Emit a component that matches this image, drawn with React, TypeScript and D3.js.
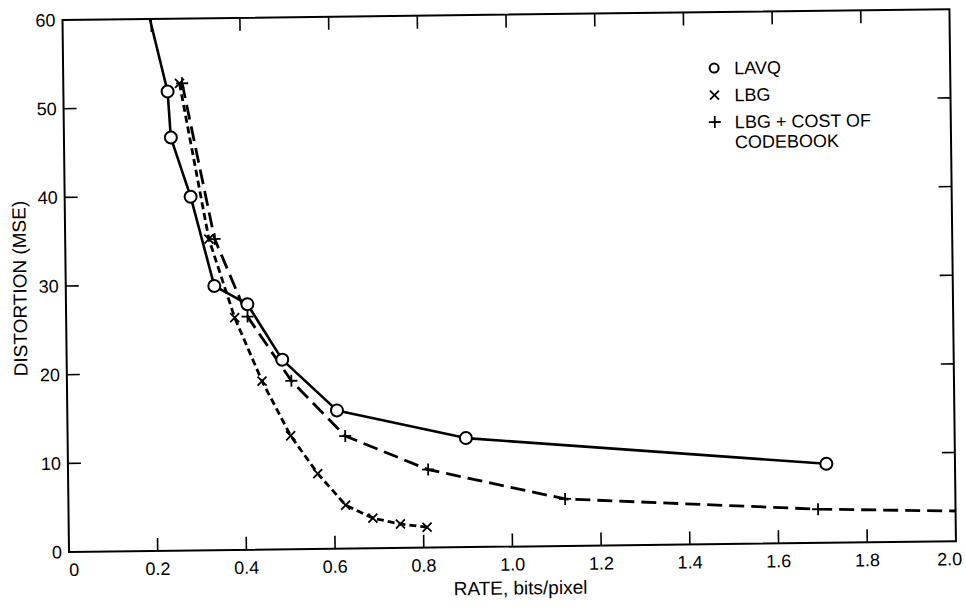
import React, { useEffect, useRef } from 'react';
import * as d3 from 'd3';

// axis ticks
const xTicks = [0, 0.2, 0.4, 0.6, 0.8, 1.0, 1.2, 1.4, 1.6, 1.8, 2.0];
const yTicks = [0, 10, 20, 30, 40, 50, 60];

// LAVQ (solid line, circles). first point = where the line leaves the top of the frame
const lavqRate = [0.197, 0.235, 0.241, 0.284, 0.335, 0.409, 0.486, 0.608, 0.898, 1.71];
const lavqMse = [60, 51.8, 46.6, 39.9, 29.8, 27.7, 21.4, 15.6, 12.3, 8.9];
const lavqMarked = [false, true, true, true, true, true, true, true, true, true];

// LBG (short dashes, x)
const lbgRate = [0.262, 0.324, 0.38, 0.44, 0.503, 0.563, 0.625, 0.686, 0.748, 0.808];
const lbgMse = [52.7, 35.1, 26.2, 19.0, 12.8, 8.5, 4.9, 3.4, 2.7, 2.3];

// LBG + cost of codebook (long dashes, +). last point = right edge of the frame
const costRate = [0.268, 0.337, 0.409, 0.506, 0.626, 0.812, 1.12, 1.69, 2.0];
const costMse = [52.7, 35.1, 26.3, 19.0, 12.7, 8.8, 5.3, 3.8, 3.4];
const costMarked = [true, true, true, true, true, true, true, true, false];

const legendLabels = [['LAVQ'], ['LBG'], ['LBG + COST OF', 'CODEBOOK']];

const FONT = '"Liberation Sans", Arial, Helvetica, sans-serif';

type Pt = { rate: number; mse: number; marked: boolean };

const zip = (r: number[], m: number[], flags?: boolean[]): Pt[] =>
  r.map((rate, i) => ({ rate, mse: m[i], marked: flags ? flags[i] : true }));

const App = () => {
  const svgRef = useRef<SVGSVGElement | null>(null);

  useEffect(() => {
    const width = 966;
    const height = 608;
    const left = 69;
    const right = 956;
    const top = 20;
    const bottom = 552;

    d3.select(svgRef.current).selectAll('*').remove();

    const svg = d3.select(svgRef.current)
      .attr('width', width)
      .attr('height', height);

    svg.append('rect').attr('width', width).attr('height', height).attr('fill', '#fff');

    // the scanned figure sits slightly tilted
    const g = svg.append('g').attr('transform', `rotate(-0.7, ${left}, ${bottom})`);

    const x = d3.scaleLinear().domain([0, 2]).range([left, right]);
    const y = d3.scaleLinear().domain([0, 60]).range([bottom, top]);

    g.append('clipPath').attr('id', 'plotClip')
      .append('rect')
      .attr('x', left).attr('y', top)
      .attr('width', right - left).attr('height', bottom - top);

    // frame
    g.append('rect')
      .attr('x', left).attr('y', top)
      .attr('width', right - left).attr('height', bottom - top)
      .attr('fill', 'none')
      .attr('stroke', '#000')
      .attr('stroke-width', 2);

    const tickLen = 13;

    // inward ticks on all four sides
    xTicks.slice(1, -1).forEach(t => {
      g.append('line')
        .attr('x1', x(t)).attr('x2', x(t))
        .attr('y1', bottom).attr('y2', bottom - tickLen)
        .attr('stroke', '#000').attr('stroke-width', 1.6);
      g.append('line')
        .attr('x1', x(t)).attr('x2', x(t))
        .attr('y1', top).attr('y2', top + tickLen)
        .attr('stroke', '#000').attr('stroke-width', 1.6);
    });
    yTicks.slice(1, -1).forEach(t => {
      g.append('line')
        .attr('x1', left).attr('x2', left + tickLen)
        .attr('y1', y(t)).attr('y2', y(t))
        .attr('stroke', '#000').attr('stroke-width', 1.6);
      g.append('line')
        .attr('x1', right).attr('x2', right - tickLen)
        .attr('y1', y(t)).attr('y2', y(t))
        .attr('stroke', '#000').attr('stroke-width', 1.6);
    });

    // tick labels (the last one is pulled in so it stays on the page)
    const lastX = xTicks[xTicks.length - 1];
    g.append('g')
      .selectAll('text')
      .data(xTicks)
      .enter()
      .append('text')
      .attr('x', d => (d === lastX ? 962 : x(d) + (d === 0 ? 5 : 0)))
      .attr('y', bottom + 24)
      .attr('text-anchor', d => (d === lastX ? 'end' : 'middle'))
      .style('font-family', FONT)
      .style('font-size', '18px')
      .text(d => (d === 0 ? '0' : d.toFixed(1)));

    g.append('g')
      .selectAll('text')
      .data(yTicks)
      .enter()
      .append('text')
      .attr('x', left - 7)
      .attr('y', d => y(d))
      .attr('dy', '0.35em')
      .attr('text-anchor', 'end')
      .style('font-family', FONT)
      .style('font-size', '18px')
      .text(d => String(d));

    // axis titles
    g.append('text')
      .attr('x', 520)
      .attr('y', 600)
      .attr('text-anchor', 'middle')
      .style('font-family', FONT)
      .style('font-size', '19px')
      .text('RATE, bits/pixel');

    g.append('text')
      .attr('transform', 'translate(23, 288) rotate(-90)')
      .attr('dy', '0.35em')
      .attr('text-anchor', 'middle')
      .style('font-family', FONT)
      .style('font-size', '19px')
      .text('DISTORTION (MSE)');

    const line = d3.line<Pt>()
      .x(d => x(d.rate))
      .y(d => y(d.mse));

    const plot = g.append('g').attr('clip-path', 'url(#plotClip)');

    const series = [
      { pts: zip(costRate, costMse, costMarked), dash: '15,7', width: 2.8, marker: 'plus' },
      { pts: zip(lbgRate, lbgMse), dash: '7,4', width: 2.8, marker: 'cross' },
      { pts: zip(lavqRate, lavqMse, lavqMarked), dash: null, width: 2.6, marker: 'circle' },
    ];

    const drawMarker = (sel: d3.Selection<SVGGElement, unknown, null, undefined>, kind: string, size: number) => {
      if (kind === 'circle') {
        sel.append('circle')
          .attr('r', size)
          .attr('fill', '#fff')
          .attr('stroke', '#000')
          .attr('stroke-width', 2);
      } else if (kind === 'cross') {
        const s = size * 0.75;
        sel.append('path')
          .attr('d', `M${-s},${-s}L${s},${s}M${-s},${s}L${s},${-s}`)
          .attr('stroke', '#000')
          .attr('stroke-width', 1.8)
          .attr('fill', 'none');
      } else {
        sel.append('path')
          .attr('d', `M${-size},0H${size}M0,${-size}V${size}`)
          .attr('stroke', '#000')
          .attr('stroke-width', 1.8)
          .attr('fill', 'none');
      }
    };

    series.forEach(s => {
      plot.append('path')
        .datum(s.pts)
        .attr('d', line)
        .attr('fill', 'none')
        .attr('stroke', '#000')
        .attr('stroke-width', s.width)
        .attr('stroke-dasharray', s.dash)
        .attr('stroke-linejoin', 'round');
    });

    series.forEach(s => {
      s.pts.filter(p => p.marked).forEach(p => {
        const m = g.append('g').attr('transform', `translate(${x(p.rate)},${y(p.mse)})`);
        drawMarker(m, s.marker, 6);
      });
    });

    // legend
    const legendKinds = ['circle', 'cross', 'plus'];
    const legendY = [76, 103, 130];
    legendLabels.forEach((lines, i) => {
      const m = g.append('g').attr('transform', `translate(720, ${legendY[i]})`);
      drawMarker(m, legendKinds[i], i === 0 ? 4.5 : 6);
      lines.forEach((txt, j) => {
        g.append('text')
          .attr('x', 740)
          .attr('y', legendY[i] + j * 20)
          .attr('dy', '0.35em')
          .style('font-family', FONT)
          .style('font-size', '18px')
          .text(txt);
      });
    });
  }, []);

  return (
    <div style={{ position: 'absolute', left: 0, top: 0 }}>
      <svg ref={svgRef} style={{ display: 'block' }} />
    </div>
  );
};

export default App;
